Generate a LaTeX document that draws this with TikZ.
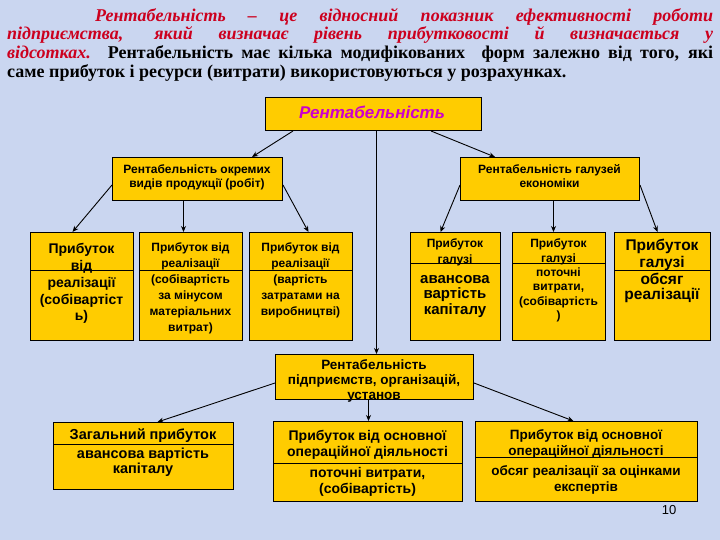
\documentclass[tikz,border=0pt]{standalone}
\usepackage{fontspec}
\setmainfont{Liberation Serif}
\setsansfont{Liberation Sans}
\usetikzlibrary{arrows.meta}
\definecolor{bg}{RGB}{202,214,240}
\definecolor{gold}{RGB}{255,204,0}
\definecolor{defred}{RGB}{204,0,30}
\definecolor{mag}{RGB}{204,0,204}
\newcommand{\fsz}[2]{\fontsize{#1}{#2}\selectfont}
\begin{document}
\begin{tikzpicture}[x=1pt,y=-1pt,
 box/.style={draw=black, line width=1pt, fill=gold, inner sep=0, anchor=north west},
 tx/.style={font=\sffamily\bfseries, align=center, inner sep=0},
 arr/.style={draw=black, line width=0.9pt, -{Stealth[length=6pt,width=5pt]}},
 divline/.style={draw=black, line width=0.8pt}]
\useasboundingbox (0,0) rectangle (720,540);
\fill[bg] (0,0) rectangle (720,540);

% intro paragraph
\node[anchor=north west, text width=706pt, align=justify, inner sep=0,
      font=\fsz{18}{18.8}\bfseries] (intro) at (7,8)
 {\hspace*{88pt}{\color{defred}\itshape Рентабельність – це відносний показник ефективності роботи\linebreak
 підприємства, який визначає рівень прибутковості й визначається у\linebreak
 відсотках.} Рентабельність має кілька модифікованих\ \ форм залежно від того, які\linebreak
 саме прибуток і ресурси (витрати) використовуються у розрахунках.};

% boxes
\node[box, minimum width=216pt, minimum height=33pt] (M) at (265,97) {};
\node[tx, font=\sffamily\bfseries\itshape\fsz{17}{18}, text=mag] (Mt) at (372,112.5) {Рентабельність};

\node[box, minimum width=170pt, minimum height=43pt] (R1) at (112,157) {};
\node[tx, font=\sffamily\bfseries\fsz{12}{14}] (R1t) at (197,177.5) {Рентабельність окремих\\видів продукції (робіт)};

\node[box, minimum width=179pt, minimum height=43pt] (R3) at (460,157) {};
\node[tx, font=\sffamily\bfseries\fsz{12}{14}] (R3t) at (549.5,176) {Рентабельність галузей\\економіки};

% row 3
\node[box, minimum width=103pt, minimum height=108pt] (A) at (30,232) {};
\draw[divline] (A.west |- 0,270) -- (A.east |- 0,270);
\node[tx, font=\sffamily\bfseries\fsz{14}{16.5}] (At) at (81.5,258.5) {Прибуток\\від};
\node[tx, font=\sffamily\bfseries\fsz{14}{16.5}] (Ab) at (81.5,300.5) {реалізації\\(собівартіст\\ь)};

\node[box, minimum width=103pt, minimum height=108pt] (B) at (139,232) {};
\draw[divline] (B.west |- 0,270) -- (B.east |- 0,270);
\node[tx, font=\sffamily\bfseries\fsz{12}{16}] (Bt) at (190.5,256) {Прибуток від\\реалізації};
\node[tx, font=\sffamily\bfseries\fsz{12}{16}] (Bb) at (190.5,304.5) {(собівартість\\за мінусом\\матеріальних\\витрат)};

\node[box, minimum width=103pt, minimum height=108pt] (C) at (249,232) {};
\draw[divline] (C.west |- 0,270) -- (C.east |- 0,270);
\node[tx, font=\sffamily\bfseries\fsz{12}{16}] (Ct) at (300.5,256) {Прибуток від\\реалізації};
\node[tx, font=\sffamily\bfseries\fsz{12}{16}] (Cb) at (300.5,296.5) {(вартість\\затратами на\\виробництві)};

\node[box, minimum width=90pt, minimum height=108pt] (D) at (410,232) {};
\draw[divline] (D.west |- 0,263) -- (D.east |- 0,263);
\node[tx, font=\sffamily\bfseries\fsz{12}{16}] (Dt) at (455,252.5) {Прибуток\\галузі};
\node[tx, font=\sffamily\bfseries\fsz{15}{15.5}] (Db) at (455,296.5) {авансова\\вартість\\капіталу};

\node[box, minimum width=93pt, minimum height=108pt] (E) at (512,232) {};
\draw[divline] (E.west |- 0,263) -- (E.east |- 0,263);
\node[tx, font=\sffamily\bfseries\fsz{12}{15}] (Et) at (558.5,251.5) {Прибуток\\галузі};
\node[tx, font=\sffamily\bfseries\fsz{12}{14.5}] (Eb) at (558.5,295) {поточні\\витрати,\\(собівартість\\)};

\node[box, minimum width=96pt, minimum height=108pt] (F) at (614,232) {};
\draw[divline] (F.west |- 0,270) -- (F.east |- 0,270);
\node[tx, font=\sffamily\bfseries\fsz{15.5}{17}] (Ft) at (662,255) {Прибуток\\галузі};
\node[tx, font=\sffamily\bfseries\fsz{15.5}{15}] (Fb) at (662,288) {обсяг\\реалізації};

% enterprise level
\node[box, minimum width=198pt, minimum height=45pt] (R8) at (275,354) {};
\node[tx, font=\sffamily\bfseries\fsz{13.5}{15}] (R8t) at (374,380.5) {Рентабельність\\підприємств, організацій,\\установ};

\node[box, minimum width=180pt, minimum height=67pt] (G) at (53,422) {};
\draw[divline] (G.west |- 0,444) -- (G.east |- 0,444);
\node[tx, font=\sffamily\bfseries\fsz{14.5}{15}] (Gt) at (143,436) {Загальний прибуток};
\node[tx, font=\sffamily\bfseries\fsz{14.5}{15}] (Gb) at (143,462) {авансова вартість\\капіталу};

\node[box, minimum width=189pt, minimum height=80pt] (H) at (273,421) {};
\draw[divline] (H.west |- 0,463) -- (H.east |- 0,463);
\node[tx, font=\sffamily\bfseries\fsz{14}{15.5}] (Ht) at (367.5,445) {Прибуток від основної\\операційної діяльності};
\node[tx, font=\sffamily\bfseries\fsz{14}{15.5}] (Hb) at (367.5,482) {поточні витрати,\\(собівартість)};

\node[box, minimum width=222pt, minimum height=80pt] (I) at (475,421) {};
\draw[divline] (I.west |- 0,457) -- (I.east |- 0,457);
\node[tx, font=\sffamily\bfseries\fsz{13.5}{15.5}] (It) at (586,444) {Прибуток від основної\\операційної діяльності};
\node[tx, font=\sffamily\bfseries\fsz{13.5}{15.5}] (Ib) at (586,480) {обсяг реалізації за оцінками\\експертів};

\node[inner sep=0, font=\sffamily\fsz{13}{15}] (pg) at (669,510) {10};

% connectors
\draw[arr] ([xshift=28pt]M.south west) -- ([xshift=-31pt]R1.north east);
\draw[arr] ([xshift=-51pt]M.south east) -- ([xshift=35pt]R3.north west);
\draw[arr] ([xshift=3pt]M.south) -- ([xshift=2pt]R8.north);

\draw[arr] ([yshift=-6pt]R1.west) -- ([xshift=-9.5pt]A.north);
\draw[arr] ([xshift=-14pt]R1.south) -- ([xshift=-7.5pt]B.north);
\draw[arr] ([yshift=-6pt]R1.east) -- ([xshift=7.5pt]C.north);

\draw[arr] ([yshift=-6pt]R3.west) -- ([xshift=-15pt]D.north);
\draw[arr] ([xshift=3.5pt]R3.south) -- ([xshift=-5.5pt]E.north);
\draw[arr] ([yshift=-6pt]R3.east) -- ([xshift=-5pt]F.north);

\draw[arr] ([yshift=-6pt]R8.west) -- ([xshift=14pt]G.north);
\draw[arr] ([xshift=-6pt]R8.south) -- ([xshift=0.5pt]H.north);
\draw[arr] ([yshift=-6pt]R8.east) -- ([xshift=-13pt]I.north);
\end{tikzpicture}
\end{document}
